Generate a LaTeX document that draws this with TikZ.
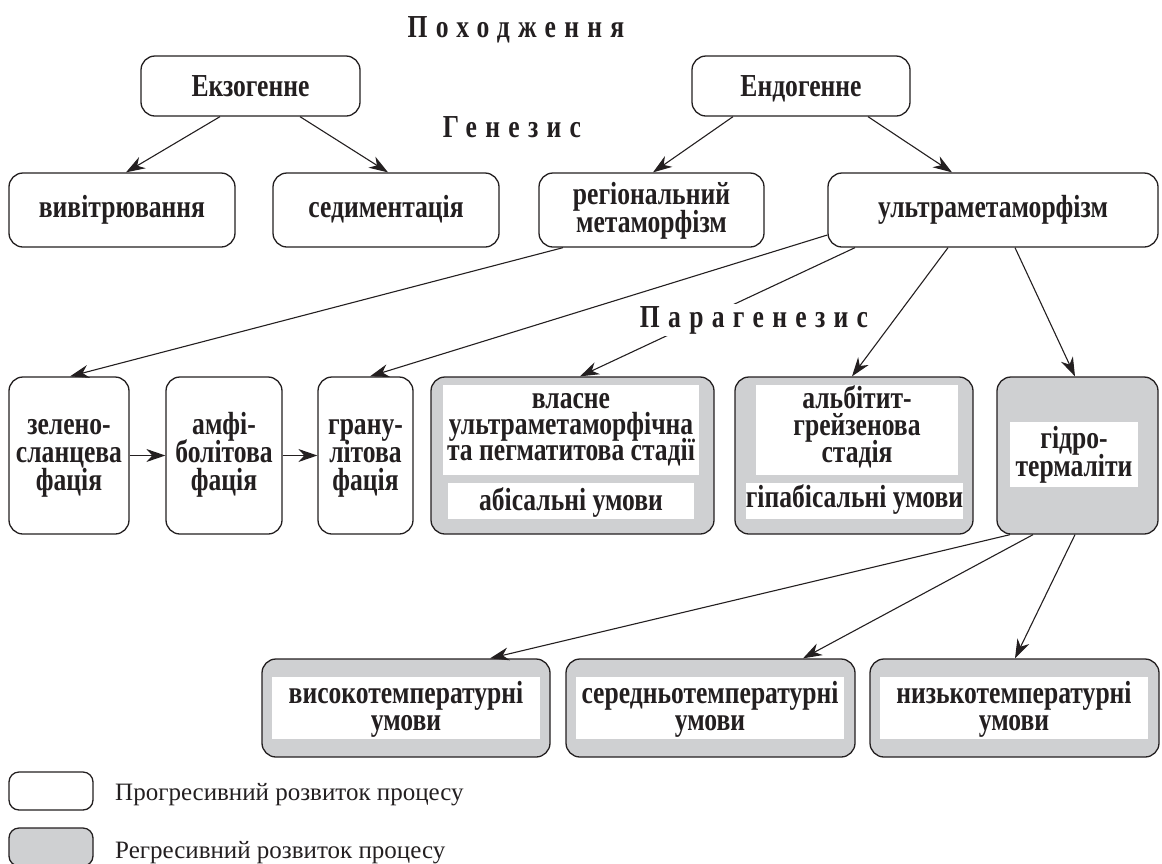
\documentclass[tikz,border=0pt]{standalone}
\usepackage{fontspec}
\setmainfont{Liberation Serif}
\newfontfamily\bx{Liberation Serif}[FakeStretch=0.8]
\newfontfamily\hx{Liberation Serif}[FakeStretch=0.8,LetterSpace=26]
\usetikzlibrary{arrows.meta,calc}
\definecolor{ink}{RGB}{35,31,32}
\definecolor{greyfill}{RGB}{207,208,210}
% strut helper: height of first line, depth of last line
\newcommand\bxt[3]{\rule{0pt}{#1pt}#3\rule[-#2pt]{0pt}{#2pt}}
\begin{document}
\lineskiplimit=-100pt
\begin{tikzpicture}[x=1pt,y=-1pt,
  every node/.style={text=ink},
  wbox/.style={draw=ink, line width=1.3pt, rounded corners=14pt, fill=white, inner sep=0pt, align=center, font=\bx\bfseries\fontsize{32}{28}\selectfont},
  gbox/.style={draw=ink, line width=1.3pt, rounded corners=14pt, fill=greyfill, inner sep=0pt},
  inbox/.style={fill=white, inner sep=0pt, align=center, font=\bx\bfseries\fontsize{32}{27}\selectfont},
  head/.style={font=\hx\bfseries\fontsize{32}{32}\selectfont, anchor=base, fill=white, inner sep=2pt},
  conn/.style={draw=ink, line width=1.1pt, -{Stealth[length=19pt,width=13pt,inset=6pt]}},
  legtext/.style={font=\fontsize{25}{25}\selectfont, anchor=base west, inner sep=0pt}
]
\useasboundingbox (0,0) rectangle (1162,863);

% row 1
\node[wbox, minimum width=219pt, minimum height=60pt] (ekzo) at (250.5,86) {\bxt{28}{8}{Екзогенне}};
\node[wbox, minimum width=218pt, minimum height=60pt] (endo) at (801,86) {\bxt{28}{8}{Ендогенне}};

% row 2
\node[wbox, minimum width=226pt, minimum height=74pt] (viv) at (122,210) {\bxt{23}{9}{вивітрювання}};
\node[wbox, minimum width=226pt, minimum height=74pt] (sed) at (386,210) {\bxt{23}{9}{седиментація}};
\node[wbox, minimum width=225pt, minimum height=74pt] (reg) at (651.5,210) {\bxt{24}{8}{регіональний\\метаморфізм}};
\node[wbox, minimum width=330pt, minimum height=74pt] (ultra) at (993,210) {\bxt{23}{9}{ультраметаморфізм}};

% row 3
\node[wbox, minimum width=120pt, minimum height=157pt] (zel) at (69,455.5) {\bxt{23}{10}{зелено-\\сланцева\\фація}};
\node[wbox, minimum width=116pt, minimum height=157pt] (amf) at (224,455.5) {\bxt{23}{10}{амфі-\\болітова\\фація}};
\node[wbox, minimum width=95pt, minimum height=157pt] (gran) at (365.5,455.5) {\bxt{23}{10}{грану-\\літова\\фація}};

\node[gbox, minimum width=283pt, minimum height=157pt] (vlas) at (572.5,455.5) {};
\node[inbox, minimum width=256pt, minimum height=86pt, font=\bx\bfseries\fontsize{32}{26}\selectfont] (vlasA) at (571,430) {\bxt{23}{15}{власне\\ультраметаморфічна\\та пегматитова стадії}};
\node[inbox, minimum width=246pt, minimum height=36pt] (vlasB) at (571,501) {\bxt{26}{8}{абісальні умови}};

\node[gbox, minimum width=238pt, minimum height=157pt] (alb) at (854,455.5) {};
\node[inbox, minimum width=202pt, minimum height=86pt] (albA) at (857,430) {\bxt{23}{13}{альбітит-\\грейзенова\\стадія}};
\node[inbox, minimum width=215pt, minimum height=36pt] (albB) at (854.5,501) {\bxt{23}{11}{гіпабісальні умови}};

\node[gbox, minimum width=161pt, minimum height=157pt] (hyd) at (1077.5,455.5) {};
\node[inbox, minimum width=128pt, minimum height=65pt, font=\bx\bfseries\fontsize{32}{28}\selectfont] (hydA) at (1074,454.5) {\bxt{23}{8}{гідро-\\термаліти}};

% row 4
\node[gbox, minimum width=288pt, minimum height=98pt] (vys) at (406,708) {};
\node[inbox, minimum width=268pt, minimum height=62pt] (vysA) at (406,708) {\bxt{25}{8}{високотемпературні\\умови}};
\node[gbox, minimum width=289pt, minimum height=98pt] (ser) at (710.5,708) {};
\node[inbox, minimum width=268pt, minimum height=62pt] (serA) at (710,708) {\bxt{25}{8}{середньотемпературні\\умови}};
\node[gbox, minimum width=289pt, minimum height=98pt] (niz) at (1014.5,708) {};
\node[inbox, minimum width=268pt, minimum height=62pt] (nizA) at (1014,708) {\bxt{25}{8}{низькотемпературні\\умови}};

% connectors
\draw[conn] ([xshift=-30.5pt]ekzo.south) -- ([xshift=4pt]viv.north);
\draw[conn] ([xshift=49.5pt]ekzo.south) -- ([xshift=2pt]sed.north);
\draw[conn] ([xshift=-68pt]endo.south) -- ([xshift=1.5pt]reg.north);
\draw[conn] ([xshift=67pt]endo.south) -- ([xshift=-41pt]ultra.north);
\draw[conn] ([xshift=-88.5pt]reg.south) -- ([xshift=1pt]zel.north);
\draw[conn] ([yshift=-25pt]ultra.west) -- ([xshift=4.5pt]gran.north);
\draw[conn] ([xshift=-138pt]ultra.south) -- ([xshift=7.5pt]vlas.north);
\draw[conn] ([xshift=-45pt]ultra.south) -- ([xshift=-2pt]alb.north);
\draw[conn] ([xshift=22pt]ultra.south) -- ([xshift=-2.5pt]hyd.north);
\draw[conn] (zel.east) -- (amf.west);
\draw[conn] (amf.east) -- (gran.west);
\draw[conn] ([xshift=-67.5pt]hyd.south) -- ([xshift=84pt]vys.north);
\draw[conn] ([xshift=-44.5pt]hyd.south) -- ([xshift=92.5pt]ser.north);
\draw[conn] ([xshift=-2.5pt]hyd.south) -- ([xshift=0.5pt]niz.north);

% headings
\node[head] (h1) at (516,37) {Походження};
\node[head] (h2) at (512,137) {Генезис};
\node[head] (h3) at (754,327) {Парагенезис};

% legend
\node[draw=ink, line width=1.3pt, rounded corners=10pt, fill=white, minimum width=84pt, minimum height=38pt, inner sep=0pt] (lw) at (51,791) {};
\node[draw=ink, line width=1.3pt, rounded corners=10pt, fill=greyfill, minimum width=84pt, minimum height=38pt, inner sep=0pt] (lg) at (51,847) {};
\node[legtext] (lt1) at (115,800) {Прогресивний розвиток процесу};
\node[legtext] (lt2) at (115,858) {Регресивний розвиток процесу};
\end{tikzpicture}
\end{document}
